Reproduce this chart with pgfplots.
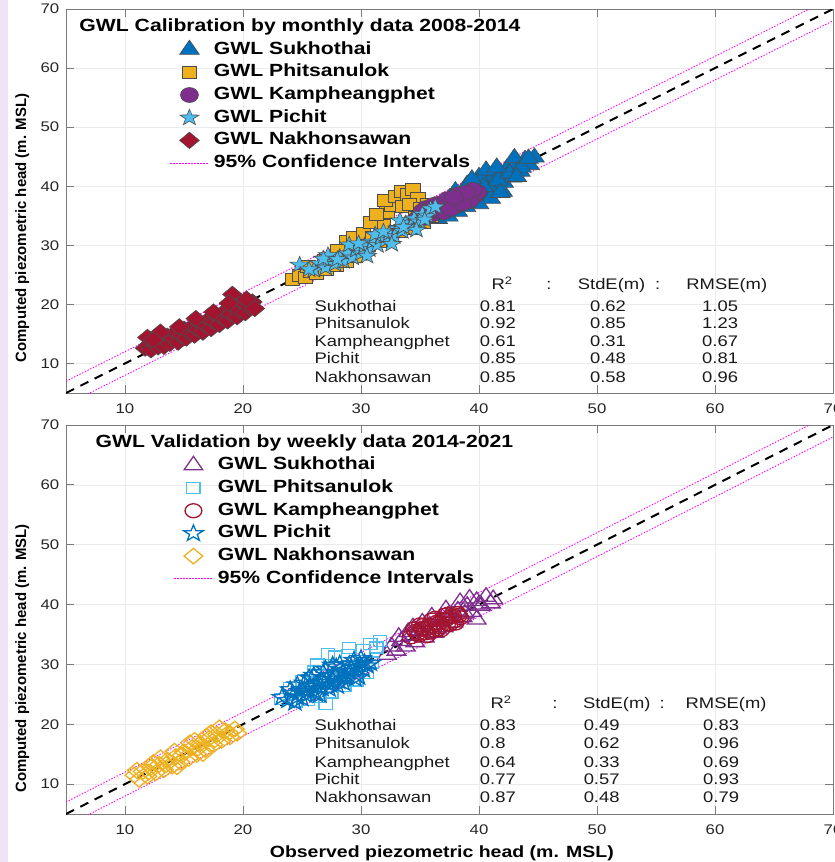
\documentclass[border=0pt]{standalone}
\usepackage{pgfplots}
\pgfplotsset{compat=1.18}
\usepackage{fontspec}
\setmainfont{Liberation Sans}[FakeStretch=1.2]
\newfontfamily\ylabfont{Liberation Sans}
\definecolor{mblue}{HTML}{0072BD}
\definecolor{myellow}{HTML}{EDB120}
\definecolor{mpurple}{HTML}{7E2F8E}
\definecolor{mcyan}{HTML}{4DBEEE}
\definecolor{mred}{HTML}{A2142F}
\definecolor{gridc}{HTML}{EBEBEB}
\definecolor{axc}{HTML}{7A7A7A}
\definecolor{lav}{HTML}{EEE4F5}
\definecolor{cimag}{HTML}{FF00FF}
\newcommand\tabfont{\fontsize{15.4}{15.4}\selectfont}
\newcommand\legfont{\bfseries\fontsize{17.7}{17.7}\selectfont}
% five-pointed star, filled and open
\newcommand\starpath{%
  \pgfpathmoveto{\pgfpointpolar{90}{\pgfplotmarksize}}%
  \pgfpathlineto{\pgfpointpolar{126}{0.4\pgfplotmarksize}}%
  \pgfpathlineto{\pgfpointpolar{162}{\pgfplotmarksize}}%
  \pgfpathlineto{\pgfpointpolar{198}{0.4\pgfplotmarksize}}%
  \pgfpathlineto{\pgfpointpolar{234}{\pgfplotmarksize}}%
  \pgfpathlineto{\pgfpointpolar{270}{0.4\pgfplotmarksize}}%
  \pgfpathlineto{\pgfpointpolar{306}{\pgfplotmarksize}}%
  \pgfpathlineto{\pgfpointpolar{342}{0.4\pgfplotmarksize}}%
  \pgfpathlineto{\pgfpointpolar{18}{\pgfplotmarksize}}%
  \pgfpathlineto{\pgfpointpolar{54}{0.4\pgfplotmarksize}}%
  \pgfpathclose}
\pgfdeclareplotmark{fstar}{\starpath\pgfusepathqfillstroke}
\pgfdeclareplotmark{ostar}{\starpath\pgfusepathqstroke}
\pgfplotsset{
  gwl/.style={
    scale only axis, width=767bp,
    xmin=5, xmax=70, ymin=5, ymax=70,
    xtick={10,20,...,70}, ytick={10,20,...,70},
    grid=major, major grid style={draw=gridc, line width=0.6bp},
    axis line style={axc, line width=0.8bp},
    tick style={axc, line width=0.8bp}, major tick length=7.7bp,
    tick align=inside, xticklabel pos=lower, yticklabel pos=left,
    ticklabel style={font=\fontsize{14}{14}\selectfont, text=black!85},
    xticklabel style={yshift=-6.8bp},
    yticklabel style={xshift=-3.3bp},
    /pgf/number format/assume math mode=true,
    every axis y label/.style={at={(rel axis cs:-0.057,0.43)}, rotate=90, anchor=center,
      font=\ylabfont\bfseries\fontsize{15}{15}\selectfont},
    every axis x label/.style={at={(rel axis cs:0.49,0)}, anchor=base, yshift=-43bp,
      font=\bfseries\fontsize{16.3}{16.3}\selectfont},
    ylabel={Computed piezometric head (m. MSL)},
    legend cell align=left,
    legend style={draw=none, fill=none, inner sep=0pt, outer sep=0pt,
      row sep=5.7bp, column sep=5bp, anchor=north west,
      nodes={inner sep=0pt, text height=13bp, text depth=4bp, font=\legfont}},
    legend image code/.code={\draw[mark repeat=2,mark phase=2] plot coordinates {(0bp,0bp) (19bp,0bp) (38bp,0bp)};},
  },
  ci/.style={cimag, line width=0.9bp, dash pattern=on 1.4bp off 1.6bp,
    legend image code/.code={\draw[draw=cimag, line width=0.9bp, dash pattern=on 1.4bp off 1.6bp] (0bp,0bp) -- (38bp,0bp);}},
  oneone/.style={black, line width=2bp, dash pattern=on 9bp off 7bp},
  filled/.style={only marks, mark options={xscale=1.2, draw=black!70, fill=#1, line width=0.6bp}},
  hollow/.style={only marks, mark options={xscale=1.2, fill=none, line width=1.3bp}},
}
\begin{document}
\begin{tikzpicture}
\fill[lav] (0,0) rectangle (8bp,-862bp);

% ---------- calibration ----------
\begin{axis}[gwl, height=384bp, at={(66bp,-393bp)}, anchor=south west,
  legend style={at={(rel axis cs:0.1356,0.919)}}]
\addplot[mblue, filled=mblue, mark=triangle*, mark size=9.5bp] coordinates {
(36.5,34.5) (37.0,35.8) (37.4,34.9) (37.8,36.6) (38.2,35.7) (38.5,37.8) (38.9,36.5) (39.2,38.9)
(39.5,37.3) (39.8,40.0) (40.2,38.2) (40.5,40.8) (40.8,39.0) (41.1,41.5) (41.4,39.8) (41.8,42.3)
(42.1,40.6) (42.4,43.1) (42.8,41.5) (43.1,43.8) (43.5,42.5) (43.9,44.5) (44.3,43.6) (44.7,44.9)
(38.0,39.2) (39.0,40.3) (40.0,41.6) (41.0,37.9) (42.0,39.1) (40.6,42.7) (37.5,38.0) (43.0,44.8)
(37.2,37.0) (38.6,38.3) (39.6,39.1) (40.4,39.9) (41.6,41.0) (42.6,42.2) (43.6,43.2) (44.2,44.7)
(39.4,41.2) (41.5,43.2) (40.0,37.0) (41.8,38.9) (43.2,41.6)};
\addlegendentry{GWL Sukhothai}
\addplot[myellow, filled=myellow, mark=square*, mark size=6bp] coordinates {
(24.2,24.3) (24.8,25.0) (25.3,24.6) (25.7,25.6) (26.2,25.2) (26.6,26.3) (27.0,25.9) (27.5,27.0)
(27.9,26.6) (28.3,27.8) (28.7,27.3) (29.1,28.6) (29.5,28.1) (29.9,29.5) (28.8,30.6) (29.4,31.3)
(30.2,32.1) (30.6,30.0) (31.0,31.3) (31.5,30.6) (31.9,33.4) (32.2,35.6) (32.6,36.8) (32.0,37.6)
(32.9,38.3) (33.4,39.2) (33.9,38.6) (34.4,39.4) (34.8,38.0) (33.5,36.6) (34.1,37.0) (35.0,36.3)
(34.6,34.8) (33.8,33.6) (33.2,32.4) (34.3,32.9) (35.3,33.9) (35.9,34.9) (35.6,36.9) (32.4,31.6)
(30.8,33.9) (31.3,35.2) (26.9,27.4) (28.0,29.1) (25.5,26.4)};
\addlegendentry{GWL Phitsanulok}
\addplot[mpurple, filled=mpurple, mark=*, mark size=7.5bp] coordinates {
(34.6,34.3) (35.0,35.1) (35.3,34.6) (35.7,35.7) (36.0,35.2) (36.3,36.3) (36.6,35.8) (36.9,36.8)
(37.2,36.3) (37.5,37.4) (37.8,36.9) (38.1,37.9) (38.4,37.4) (38.7,38.4) (39.0,37.9) (39.3,38.8)
(39.6,38.3) (39.9,39.0) (36.5,37.0) (37.3,37.8) (38.2,38.6) (35.5,36.3) (37.0,35.6) (38.0,36.6)
(39.2,37.5) (36.1,36.8) (37.6,36.2) (38.6,37.1) (39.5,39.4) (35.2,35.8) (38.9,38.9) (37.9,38.1)};
\addlegendentry{GWL Kampheangphet}
\addplot[mcyan, filled=mcyan, mark=fstar, mark size=8.5bp] coordinates {
(24.8,26.7) (26.0,25.8) (26.5,26.9) (27.0,26.2) (27.4,27.5) (27.8,26.8) (28.2,28.0) (28.5,27.3)
(28.9,28.6) (29.3,27.9) (29.6,29.2) (30.0,28.6) (30.3,29.9) (30.7,29.3) (31.0,30.6) (31.4,30.0)
(31.7,31.3) (32.1,30.8) (32.4,32.0) (32.8,31.5) (33.1,32.8) (33.5,32.4) (33.8,33.7) (34.2,33.2)
(34.5,34.5) (34.9,34.0) (35.2,35.3) (35.6,35.0) (35.9,36.2) (29.0,30.1) (31.2,31.8) (33.3,34.2)
(27.2,28.3) (30.5,28.2) (32.6,30.2) (34.7,32.6) (36.3,36.5) (25.6,25.9) (26.8,27.7) (28.0,27.6)
(29.8,30.3) (31.9,32.3) (33.6,33.1) (35.4,34.3)};
\addlegendentry{GWL Pichit}
\addplot[mred, only marks, mark=square*, mark size=5.8bp,
  mark options={xscale=1.2, rotate=45, draw=black!70, fill=mred, line width=0.6bp}] coordinates {
(11.7,12.6) (12.0,13.1) (12.2,12.3) (12.5,13.5) (11.9,14.4) (12.8,12.8) (13.1,13.9) (13.3,12.9)
(13.6,14.6) (13.8,13.4) (14.1,14.2) (14.3,15.3) (14.5,13.6) (14.8,14.7) (15.0,15.8) (15.2,14.3)
(15.5,15.2) (15.7,16.3) (15.9,14.8) (16.2,15.7) (16.4,16.8) (16.6,15.3) (16.9,16.4) (17.1,17.5)
(17.3,15.9) (17.6,17.0) (17.8,18.1) (18.0,16.6) (18.3,17.7) (18.5,18.9) (18.7,17.2) (19.0,18.4)
(19.1,21.7) (19.3,19.6) (19.5,17.9) (19.7,19.0) (20.0,20.2) (20.2,18.6) (20.5,19.6) (20.8,20.4)
(21.0,19.3) (13.0,15.3) (16.0,17.6) (17.5,18.7) (18.8,20.2) (14.6,16.2) (12.4,14.0) (20.3,20.9)};
\addlegendentry{GWL Nakhonsawan}
\addplot[ci] coordinates {(0,2) (70,72)};
\addlegendentry{95\% Confidence Intervals}
\addplot[ci, forget plot] coordinates {(0,-2) (72,70)};
\addplot[oneone, forget plot] coordinates {(5,5) (70,70)};
\node[anchor=base west, font=\legfont] at (rel axis cs:0.013,0.941) {GWL Calibration by monthly data 2008-2014};
\begin{scope}[every node/.style={anchor=base west, font=\tabfont, text=black!90, inner sep=0pt}]
\node at (axis cs:41.05,22.45) {R\textsuperscript{2}};
\node at (axis cs:45.7,22.45) {:};
\node at (axis cs:48.36,22.45) {StdE(m)};
\node at (axis cs:54.9,22.45) {:};
\node at (axis cs:57.56,22.45) {RMSE(m)};
\node at (axis cs:26.05,18.73) {Sukhothai};
\node at (axis cs:26.05,15.86) {Phitsanulok};
\node at (axis cs:26.05,12.82) {Kampheangphet};
\node at (axis cs:26.05,9.94) {Pichit};
\node at (axis cs:26.05,6.73) {Nakhonsawan};
\node at (axis cs:40.06,18.73) {0.81};
\node at (axis cs:40.06,15.86) {0.92};
\node at (axis cs:40.06,12.82) {0.61};
\node at (axis cs:40.06,9.94) {0.85};
\node at (axis cs:40.06,6.73) {0.85};
\node at (axis cs:49.4,18.73) {0.62};
\node at (axis cs:49.4,15.86) {0.85};
\node at (axis cs:49.4,12.82) {0.31};
\node at (axis cs:49.4,9.94) {0.48};
\node at (axis cs:49.4,6.73) {0.58};
\node at (axis cs:58.9,18.73) {1.05};
\node at (axis cs:58.9,15.86) {1.23};
\node at (axis cs:58.9,12.82) {0.67};
\node at (axis cs:58.9,9.94) {0.81};
\node at (axis cs:58.9,6.73) {0.96};
\end{scope}
\end{axis}

% ---------- validation ----------
\begin{axis}[gwl, height=389bp, at={(66bp,-814bp)}, anchor=south west,
  xlabel={Observed piezometric head (m. MSL)},
  every axis y label/.append style={at={(rel axis cs:-0.057,0.40)}},
  legend style={at={(rel axis cs:0.1408,0.9195)}}]
\addplot[hollow, mpurple, mark=triangle, mark size=9bp] coordinates {
(32.2,31.6) (32.6,33.0) (33.0,32.3) (33.4,33.9) (33.8,33.0) (34.2,34.8) (34.6,33.7) (35.0,35.7)
(35.4,34.5) (35.8,36.5) (36.2,35.3) (36.6,37.4) (37.0,36.2) (37.4,38.2) (37.8,37.0) (38.2,39.0)
(38.6,37.9) (39.0,39.8) (39.4,38.8) (39.8,40.6) (40.2,39.8) (40.6,41.3) (41.2,40.9) (39.8,37.5)
(36.0,38.0) (37.2,39.2) (38.4,40.4) (34.4,36.2) (35.2,37.0) (33.2,34.6) (34.0,35.4) (36.4,36.0)
(37.6,37.8) (38.8,38.5) (40.0,40.0) (41.0,40.2) (39.2,41.0)};
\addlegendentry{GWL Sukhothai}
\addplot[hollow, mcyan, mark=square, mark size=5.5bp] coordinates {
(23.2,24.2) (24.5,23.8) (25.5,24.0) (26.5,24.6) (27.5,25.3) (28.6,26.4) (29.6,27.3) (30.5,28.6)
(27.2,31.7) (27.8,31.3) (26.3,30.0) (28.9,31.6) (30.2,32.4) (30.8,33.4) (31.3,32.8) (31.6,33.9)
(29.0,32.7) (25.0,27.2) (24.0,26.0) (27.0,23.4) (26.0,28.8) (29.4,29.0) (30.9,30.3) (28.0,28.0)};
\addlegendentry{GWL Phitsanulok}
\addplot[hollow, mred, mark=o, mark size=7bp] coordinates {
(34.2,34.6) (34.6,35.5) (34.9,34.9) (35.2,36.0) (35.5,35.3) (35.8,36.5) (36.1,35.8) (36.4,37.0)
(36.7,36.3) (37.0,37.5) (37.3,36.8) (37.6,38.0) (37.9,37.3) (38.2,38.5) (38.4,37.8) (35.0,36.6)
(36.0,37.4) (37.1,38.2) (35.6,34.8) (36.8,35.8) (38.0,36.9) (34.5,35.9) (34.8,35.2) (35.4,35.8)
(36.0,36.4) (36.6,36.9) (37.2,37.5) (37.8,38.1) (38.3,38.2) (35.9,35.4) (36.5,35.9) (37.5,36.7)
(35.3,36.5) (36.3,37.7) (37.4,38.4)};
\addlegendentry{GWL Kampheangphet}
\addplot[hollow, mblue, mark=ostar, mark size=8.5bp] coordinates {
(23.3,24.5) (23.8,24.0) (24.2,25.2) (24.6,24.5) (25.0,25.8) (25.3,24.9) (25.7,26.4) (26.0,25.5)
(26.4,27.0) (26.7,26.0) (27.1,27.6) (27.4,26.6) (27.8,28.2) (28.1,27.2) (28.5,28.8) (28.8,27.8)
(29.2,29.4) (29.5,28.4) (29.9,30.0) (30.2,29.1) (30.5,29.8) (26.0,28.2) (27.0,29.2) (28.2,30.1)
(29.4,30.7) (25.2,26.9) (24.4,23.6) (26.5,24.9) (28.0,26.4) (29.8,27.9) (27.6,29.9) (25.8,27.6)
(24.0,25.8) (30.0,31.0) (24.8,25.5) (25.5,25.6) (26.2,26.3) (26.9,27.0) (27.6,27.5) (28.3,28.1)
(29.0,28.9) (29.7,29.5) (30.3,30.3) (25.0,24.3) (26.2,25.0) (27.3,25.9) (28.5,26.9) (29.5,27.6)
(24.6,26.6) (25.6,27.8) (26.8,28.7) (27.9,29.6) (29.0,30.0) (30.8,30.2)};
\addlegendentry{GWL Pichit}
\addplot[hollow, myellow, mark=square, mark size=5.5bp,
  mark options={xscale=1.2, rotate=45, fill=none, line width=1.3bp}] coordinates {
(10.8,11.5) (11.2,10.8) (11.5,12.1) (11.9,11.3) (12.2,12.8) (12.6,11.9) (12.9,13.3) (13.3,12.4)
(13.6,14.0) (14.0,13.0) (14.3,14.6) (14.7,13.7) (15.0,15.4) (15.4,14.3) (15.7,16.1) (16.1,15.0)
(16.4,16.8) (16.8,15.8) (17.1,17.6) (17.5,16.6) (17.8,18.3) (18.2,17.3) (18.5,18.9) (18.9,17.9)
(19.3,19.2) (13.0,14.4) (15.5,16.9) (17.3,18.6) (14.4,12.9) (16.6,15.1) (11.0,12.3) (12.0,12.0)
(13.5,13.3) (14.8,14.8) (16.2,16.0) (17.6,17.4) (18.8,18.6) (12.4,13.6) (15.9,17.3) (14.2,15.5)
(16.9,18.0) (18.0,19.4) (19.5,18.5)};
\addlegendentry{GWL Nakhonsawan}
\addplot[ci] coordinates {(0,2) (70,72)};
\addlegendentry{95\% Confidence Intervals}
\addplot[ci, forget plot] coordinates {(0,-2) (72,70)};
\addplot[oneone, forget plot] coordinates {(5,5) (70,70)};
\node[anchor=base west, font=\legfont] at (rel axis cs:0.034,0.942) {GWL Validation by weekly data 2014-2021};
\begin{scope}[every node/.style={anchor=base west, font=\tabfont, text=black!90, inner sep=0pt}]
\node at (axis cs:40.96,22.63) {R\textsuperscript{2}};
\node at (axis cs:46.2,22.63) {:};
\node at (axis cs:48.8,22.63) {StdE(m)};
\node at (axis cs:55.3,22.63) {:};
\node at (axis cs:57.5,22.63) {RMSE(m)};
\node at (axis cs:26.05,18.96) {Sukhothai};
\node at (axis cs:26.05,15.95) {Phitsanulok};
\node at (axis cs:26.05,12.78) {Kampheangphet};
\node at (axis cs:26.05,9.94) {Pichit};
\node at (axis cs:26.05,6.93) {Nakhonsawan};
\node at (axis cs:40.06,18.96) {0.83};
\node at (axis cs:40.06,15.95) {0.8};
\node at (axis cs:40.06,12.78) {0.64};
\node at (axis cs:40.06,9.94) {0.77};
\node at (axis cs:40.06,6.93) {0.87};
\node at (axis cs:48.86,18.96) {0.49};
\node at (axis cs:48.86,15.95) {0.62};
\node at (axis cs:48.86,12.78) {0.33};
\node at (axis cs:48.86,9.94) {0.57};
\node at (axis cs:48.86,6.93) {0.48};
\node at (axis cs:58.98,18.96) {0.83};
\node at (axis cs:58.98,15.95) {0.96};
\node at (axis cs:58.98,12.78) {0.69};
\node at (axis cs:58.98,9.94) {0.93};
\node at (axis cs:58.98,6.93) {0.79};
\end{scope}
\end{axis}
\pgfresetboundingbox
\useasboundingbox (0,0) rectangle (835bp,-862bp);
\end{tikzpicture}
\end{document}
